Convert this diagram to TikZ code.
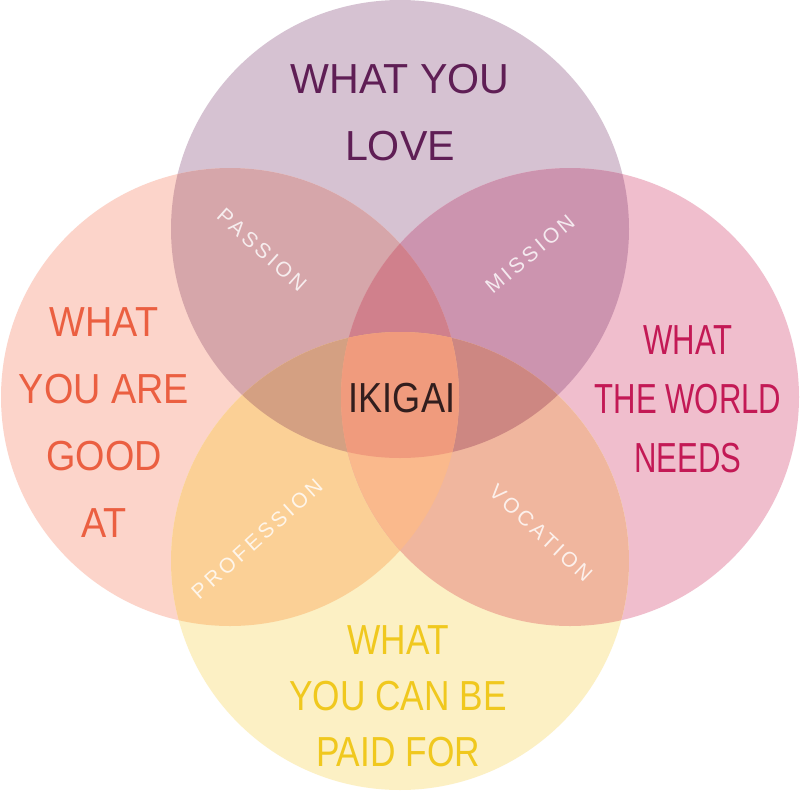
\documentclass[tikz,border=0pt]{standalone}
\usepackage{fontspec}
\setmainfont{Liberation Sans}
\newfontfamily\fTop[FakeStretch=0.98]{Liberation Sans}
\newfontfamily\fLeft[FakeStretch=0.9]{Liberation Sans}
\newfontfamily\fRight[FakeStretch=0.74]{Liberation Sans}
\newfontfamily\fBot[FakeStretch=0.84]{Liberation Sans}
\newfontfamily\fMid[FakeStretch=0.86]{Liberation Sans}
\newfontfamily\fIn[LetterSpace=16]{Liberation Sans}
\definecolor{cT}{RGB}{214,194,210}
\definecolor{cL}{RGB}{252,212,202}
\definecolor{cR}{RGB}{240,190,205}
\definecolor{cB}{RGB}{252,240,196}
\definecolor{cTL}{RGB}{214,166,170}
\definecolor{cTR}{RGB}{204,148,175}
\definecolor{cLB}{RGB}{251,208,150}
\definecolor{cRB}{RGB}{240,182,158}
\definecolor{cTB}{RGB}{220,170,160}
\definecolor{cLR}{RGB}{230,170,165}
\definecolor{cTLR}{RGB}{208,128,140}
\definecolor{cTLB}{RGB}{212,160,130}
\definecolor{cTRB}{RGB}{205,135,130}
\definecolor{cLRB}{RGB}{250,185,140}
\definecolor{cAll}{RGB}{240,155,125}
\definecolor{tTop}{RGB}{95,30,85}
\definecolor{tLeft}{RGB}{235,95,65}
\definecolor{tRight}{RGB}{195,25,85}
\definecolor{tBot}{RGB}{240,200,30}
\definecolor{tMid}{RGB}{50,30,30}
\begin{document}
\begin{tikzpicture}[x=1pt,y=-1pt,
  biglabel/.style={align=center,inner sep=0pt},
  inlabel/.style={text=white,text opacity=0.8,inner sep=0pt,font=\fIn\fontsize{21}{26}\selectfont}]
\def\cTop{(400,229) circle (229pt)}
\def\cLft{(230,397) circle (229pt)}
\def\cRgt{(570,397) circle (229pt)}
\def\cBot{(400,561) circle (229pt)}
\fill[white] (0,0) rectangle (800,790);
\useasboundingbox (0,0) rectangle (800,790);
% single circles
\fill[cT] \cTop;
\fill[cL] \cLft;
\fill[cR] \cRgt;
\fill[cB] \cBot;
% pairs
\begin{scope}\clip \cTop; \fill[cTL] \cLft; \fill[cTR] \cRgt; \fill[cTB] \cBot; \end{scope}
\begin{scope}\clip \cLft; \fill[cLB] \cBot; \fill[cLR] \cRgt; \end{scope}
\begin{scope}\clip \cRgt; \fill[cRB] \cBot; \end{scope}
% triples
\begin{scope}\clip \cTop; \clip \cLft; \fill[cTLR] \cRgt; \fill[cTLB] \cBot; \end{scope}
\begin{scope}\clip \cTop; \clip \cRgt; \fill[cTRB] \cBot; \end{scope}
\begin{scope}\clip \cLft; \clip \cRgt; \fill[cLRB] \cBot; \end{scope}
% all four
\begin{scope}\clip \cTop; \clip \cLft; \clip \cRgt; \fill[cAll] \cBot; \end{scope}
% labels
\node[biglabel,text=tTop,font=\fTop\fontsize{42}{67}\selectfont] (love) at (400,113) {WHAT YOU\\LOVE};
\node[biglabel,text=tLeft,font=\fLeft\fontsize{42}{67}\selectfont] (good) at (104,423) {WHAT\\YOU ARE\\GOOD\\AT};
\node[biglabel,text=tRight,font=\fRight\fontsize{42}{59}\selectfont] (needs) at (688,399) {WHAT\\THE WORLD\\NEEDS};
\node[biglabel,text=tBot,font=\fBot\fontsize{42}{56}\selectfont] (paid) at (398,696) {WHAT\\YOU CAN BE\\PAID FOR};
\node[biglabel,text=tMid,font=\fMid\fontsize{42}{50}\selectfont] (ikigai) at (402,398) {IKIGAI};
\node[inlabel,rotate=-42] (passion) at (262,250) {PASSION};
\node[inlabel,rotate=40] (mission) at (530,254) {MISSION};
\node[inlabel,rotate=42] (profession) at (257,539) {PROFESSION};
\node[inlabel,rotate=-43] (vocation) at (541,533) {VOCATION};
\end{tikzpicture}
\end{document}
